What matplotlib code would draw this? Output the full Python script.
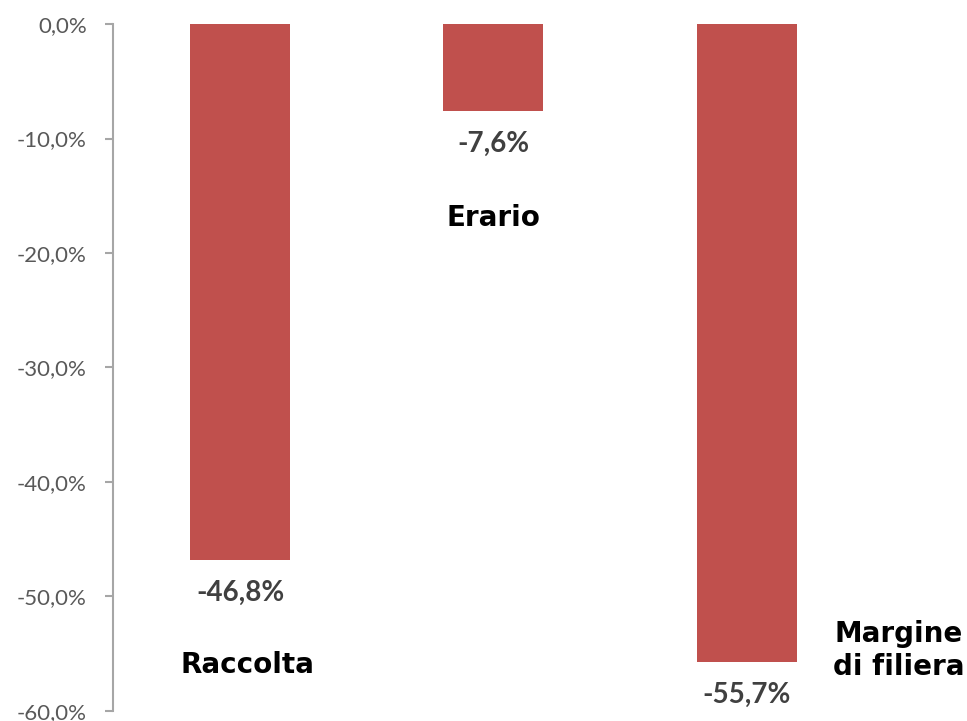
import matplotlib.pyplot as plt

categories = ["Raccolta", "Erario", "Margine\ndi filiera"]
values = [-46.8, -7.6, -55.7]
yticks = [0, -10, -20, -30, -40, -50, -60]

# where the category names sit (data coords)
name_pos = [(0.03, -56.0), (1.0, -16.9), (2.6, -54.7)]

fig = plt.figure(figsize=(9.67, 7.21), dpi=100)
ax = fig.add_axes([0.1169, 0.0139, 0.8831, 0.9528])

x = range(len(values))
bars = ax.bar(x, values, width=0.395, color="#C0504D")

for xi, v in zip(x, values):
    ax.annotate(f"{v:.1f}%".replace(".", ","), (xi, v), xytext=(0, -33),
                textcoords="offset pixels", ha="center", va="center",
                fontsize=20, fontweight="bold", color="#404040", family="Lato")

for name, (px, py) in zip(categories, name_pos):
    ax.text(px, py, name, ha="center", va="center", fontsize=20,
            fontweight="bold", color="black", family="DejaVu Sans",
            linespacing=1.25)

ax.set_xlim(-0.502, 2.87)
ax.set_ylim(-60, 0)
ax.set_yticks(yticks)
ax.set_yticklabels([f"{t:.1f}%".replace(".", ",") for t in yticks],
                   fontsize=16, color="#595959", family="Lato")
ax.tick_params(axis="y", length=6, color="#A6A6A6", width=1.5, pad=13)
ax.set_xticks([])
for s in ["top", "right", "bottom"]:
    ax.spines[s].set_visible(False)
ax.spines["left"].set_color("#A6A6A6")
ax.spines["left"].set_linewidth(1.5)

fig.savefig("out.png", dpi=100)
